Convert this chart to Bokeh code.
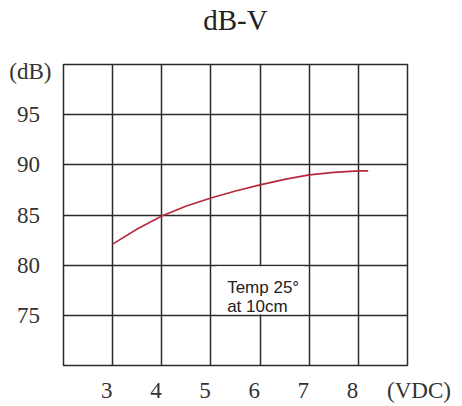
from bokeh.plotting import figure
from bokeh.models import Range1d, FixedTicker, Label, BoxAnnotation, LinearAxis
from bokeh.embed import file_html
from bokeh.resources import INLINE

# Data
volts = [3.0, 3.5, 4.0, 4.5, 5.0, 5.5, 6.0, 6.5, 7.0, 7.5, 8.0, 8.2]
db = [82.1, 83.6, 84.9, 85.9, 86.7, 87.4, 88.0, 88.55, 89.0, 89.25, 89.4, 89.4]
x_ticks = [3, 4, 5, 6, 7, 8]
x_tick_labels = ["3", "4", "5", "6", "7", "8"]
x_unit = "(VDC)"
y_ticks = [75, 80, 85, 90, 95]
y_tick_labels = ["75", "80", "85", "90", "95"]
y_unit = "(dB)"
title_text = "dB-V"

SERIF = "Liberation Serif"
SANS = "Liberation Sans"
GRID = "#2b2b2b"
TXT = "#333333"
NB = "\u00a0"

X0, X1, Y0, Y1 = 2, 9, 70, 100

p = figure(width=462, height=406, output_backend="svg", toolbar_location=None, title=None,
           x_range=Range1d(X0, X1), y_range=Range1d(Y0, Y1),
           min_border_left=63, min_border_right=55, min_border_top=63, min_border_bottom=41)
p.background_fill_color = "white"
p.border_fill_color = "white"
p.outline_line_color = GRID
p.outline_line_width = 1.5
p.outline_line_alpha = 1.0

p.xgrid.ticker = FixedTicker(ticks=x_ticks)
p.ygrid.ticker = FixedTicker(ticks=y_ticks)
for g in (p.xgrid, p.ygrid):
    g.grid_line_color = GRID
    g.grid_line_width = 1.5
    g.grid_line_alpha = 1.0


def plain(ax, size, standoff):
    ax.axis_line_color = None
    ax.major_tick_line_color = None
    ax.minor_tick_line_color = None
    ax.major_tick_out = 0
    ax.major_tick_in = 0
    ax.major_label_standoff = standoff
    ax.major_label_text_font = SERIF
    ax.major_label_text_font_size = size
    ax.major_label_text_color = TXT


# x axis (below): labels sit a little left of their grid lines; unit label at the far right
xshift = 0.12
xa = p.below[0]
xa_pos = [round(t - xshift, 2) for t in x_ticks]
unit_pos = X1 - 0.001
xa.ticker = FixedTicker(ticks=xa_pos + [unit_pos])
ov = {pos: s for pos, s in zip(xa_pos, x_tick_labels)}
ov[unit_pos] = NB * 4 + x_unit
xa.major_label_overrides = ov
plain(xa, "23px", 12)

# y axis: numeric labels plus the unit label near the top
ya = p.left[0]
unit_y = 99.3
ya.ticker = FixedTicker(ticks=y_ticks + [unit_y])
yov = {t: s + NB * 2 for t, s in zip(y_ticks, y_tick_labels)}
yov[unit_y] = y_unit
ya.major_label_overrides = yov
plain(ya, "23px", 12)

# Chart title, centred over the plot frame
mid = (X0 + X1) / 2
ta = LinearAxis(ticker=FixedTicker(ticks=[mid]), major_label_overrides={mid: title_text})
plain(ta, "29px", 29)
ta.major_label_text_color = "#222222"
p.add_layout(ta, "above")

# White box behind the note
p.add_layout(BoxAnnotation(left=5.12, right=6.88, bottom=75.12, top=79.88,
                           fill_color="white", fill_alpha=1.0, line_color=None))

p.line(volts, db, line_color="#b8283c", line_width=1.6)

p.add_layout(Label(x=5.33, y=77.78, text="Temp 25°", text_align="left",
                   text_baseline="alphabetic", text_font=SANS, text_font_size="17px",
                   text_color="#222222"))
p.add_layout(Label(x=5.33, y=75.9, text="at 10cm", text_align="left",
                   text_baseline="alphabetic", text_font=SANS, text_font_size="17px",
                   text_color="#222222"))

open("out.html", "w").write(file_html(p, INLINE))
